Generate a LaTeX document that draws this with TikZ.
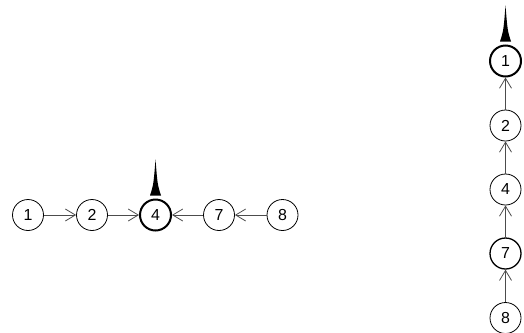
\documentclass[tikz,border=0pt]{standalone}
\usepackage{fontspec}
\setmainfont{Liberation Sans}
\usetikzlibrary{arrows.meta,calc}

\begin{document}
\begin{tikzpicture}[
    x=1bp, y=-1bp,
    font=\fontsize{16}{18}\selectfont,
    vertex/.style={draw, circle, line width=0.8bp, minimum size=31bp, inner sep=0pt},
    root/.style={vertex, line width=2bp},
    marked/.style={vertex, line width=1.3bp},
    link/.style={-{Straight Barb[length=10bp,width=12bp]}, line width=0.8bp, black!70},
    spike/.style={fill=black}
]
\useasboundingbox (0,0) rectangle (524,332);

% Left row
\node[vertex] (l1) at (28,215) {1};
\node[vertex] (l2) at (92,215) {2};
\node[root]   (l4) at (155.5,215) {4};
\node[vertex] (l7) at (219,215) {7};
\node[vertex] (l8) at (282.5,215) {8};

\draw[link] (l1) -- (l2);
\draw[link] (l2) -- (l4);
\draw[link] (l7) -- (l4);
\draw[link] (l8) -- (l7);

% Right column
\node[root]   (r1) at (505.5,61) {1};
\node[vertex] (r2) at (505.5,125.5) {2};
\node[vertex] (r4) at (505.5,189.5) {4};
\node[marked] (r7) at (505.5,253.5) {7};
\node[vertex] (r8) at (505.5,318) {8};

\draw[link] (r2) -- (r1);
\draw[link] (r4) -- (r2);
\draw[link] (r7) -- (r4);
\draw[link] (r8) -- (r7);

% Root markers
\foreach \r in {l4,r1} {
  \fill[spike] ([xshift=-5.5bp,yshift=3bp]\r.north)
    .. controls ([xshift=-2bp,yshift=14bp]\r.north) .. ([yshift=39bp]\r.north)
    .. controls ([xshift=2bp,yshift=14bp]\r.north) .. ([xshift=5.5bp,yshift=3bp]\r.north)
    -- cycle;
}

\end{tikzpicture}
\end{document}
